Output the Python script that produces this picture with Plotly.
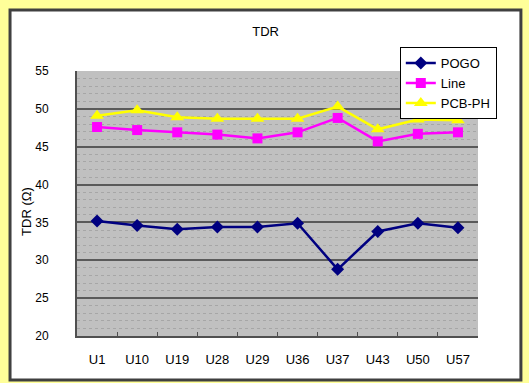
import plotly.graph_objects as go

# Test points along the board
categories = ["U1", "U10", "U19", "U28", "U29", "U36", "U37", "U43", "U50", "U57"]

# TDR impedance readings (ohms)
pogo = [35.2, 34.6, 34.1, 34.4, 34.4, 34.9, 28.8, 33.8, 34.9, 34.3]
line = [47.6, 47.2, 46.9, 46.6, 46.1, 46.9, 48.8, 45.7, 46.7, 46.9]
pcb_ph = [49.1, 49.8, 48.9, 48.7, 48.7, 48.7, 50.3, 47.3, 48.6, 48.5]

y_ticks = [20, 25, 30, 35, 40, 45, 50, 55]

FONT = "Liberation Sans, Arial, sans-serif"
PANEL_GRAY = "#c0c0c0"

fig = go.Figure()

fig.add_trace(go.Scatter(
    x=categories, y=pogo, name="POGO", mode="lines+markers",
    line=dict(color="#000080", width=2.5),
    marker=dict(symbol="diamond", size=10, color="#000080"),
))
fig.add_trace(go.Scatter(
    x=categories, y=line, name="Line", mode="lines+markers",
    line=dict(color="#ff00ff", width=2.5),
    marker=dict(symbol="square", size=10, color="#ff00ff"),
))
fig.add_trace(go.Scatter(
    x=categories, y=pcb_ph, name="PCB-PH", mode="lines+markers",
    line=dict(color="#ffff00", width=2.5),
    marker=dict(symbol="triangle-up", size=12, color="#ffff00"),
))

shapes = [
    # white chart panel with dark frame
    dict(type="rect", xref="paper", yref="paper", layer="below",
         x0=-0.167, x1=1.107, y0=-0.166, y1=1.23,
         fillcolor="white", line=dict(color="#404040", width=3)),
    # gray plotting area
    dict(type="rect", xref="paper", yref="paper", layer="below",
         x0=0, x1=1, y0=0, y1=1,
         fillcolor=PANEL_GRAY, line=dict(width=0)),
    # plain patch beside the legend where grid lines are not drawn
    dict(type="rect", xref="paper", yref="y", layer="between",
         x0=0.814, x1=0.998, y0=44.75, y1=54.8,
         fillcolor=PANEL_GRAY, line=dict(width=0)),
]

fig.update_layout(
    width=529, height=383,
    margin=dict(l=77, r=51, t=71, b=47),
    paper_bgcolor="#ffff99",
    plot_bgcolor="rgba(0,0,0,0)",
    font=dict(family=FONT, color="black", size=13),
    title=dict(text="TDR", x=0.502, xanchor="center", y=0.917, yanchor="middle",
               font=dict(family=FONT, size=13, color="black")),
    showlegend=True,
    legend=dict(
        x=0.805, y=1.09, xanchor="left", yanchor="top",
        bgcolor="white", bordercolor="black", borderwidth=1,
        font=dict(family=FONT, size=13, color="black"),
        tracegroupgap=0,
    ),
    shapes=shapes,
    annotations=[dict(
        text="TDR (Ω)", xref="paper", yref="paper", x=-0.1247, y=0.472,
        textangle=-90, showarrow=False, font=dict(family=FONT, size=13, color="black"),
        xanchor="center", yanchor="middle",
    )],
)

fig.update_xaxes(
    type="category", range=[-0.5, 9.5],
    showgrid=False, zeroline=False,
    showline=True, linecolor="#505050", linewidth=2,
    ticks="inside", ticklen=4, tickcolor="#505050", tickwidth=1,
    tickson="boundaries", ticklabelstandoff=10,
    tickfont=dict(family=FONT, size=13, color="black"),
)

fig.update_yaxes(
    range=[20, 55], tickvals=y_ticks,
    showgrid=True, gridcolor="#5a5a5a", gridwidth=2,
    zeroline=False,
    showline=True, linecolor="#505050", linewidth=2,
    ticks="", ticklabelstandoff=24,
    tickfont=dict(family=FONT, size=12, color="black"),
    minor=dict(dtick=1, showgrid=True, gridcolor="#a6a6a6", griddash="dot", gridwidth=1),
)

fig.write_html("out.html")
